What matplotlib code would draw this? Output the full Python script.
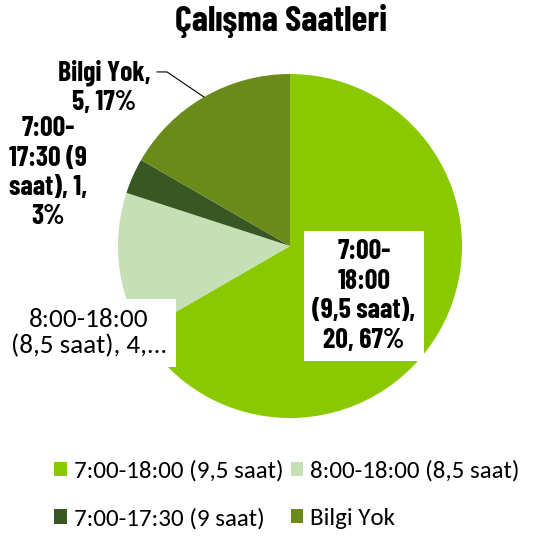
import matplotlib
matplotlib.use("Agg")
import numpy as np
import matplotlib.pyplot as plt

categories = ["7:00-18:00 (9,5 saat)", "8:00-18:00 (8,5 saat)",
              "7:00-17:30 (9 saat)", "Bilgi Yok"]
counts = [20, 4, 1, 5]
colors = ["#8AC800", "#C5E0B4", "#385723", "#6A8A1A"]

cond = "Barlow Condensed"
body = "Carlito"

fig = plt.figure(figsize=(5.35, 5.36), dpi=100)
ax = fig.add_axes([118 / 535, 118 / 536, 344 / 535, 344 / 536])

wedges, _ = ax.pie(counts, colors=colors, startangle=90, counterclock=False,
                   radius=1, wedgeprops=dict(linewidth=0))
ax.set_xlim(-1, 1)
ax.set_ylim(-1, 1)
ax.set_aspect("equal")
ax.axis("off")

total = sum(counts)
pct = [round(c / total * 100) for c in counts]

lab = dict(ha="center", va="center", fontsize=20, fontweight="bold",
           family=cond, linespacing=1.22, clip_on=False)

# big slice label, white box inside the pie
ax.text(0.430, -0.291, f"7:00-\n18:00\n(9,5 saat),\n{counts[0]}, {pct[0]}%",
        bbox=dict(boxstyle="square,pad=0.3", fc="white", ec="none"), **lab)

# truncated label on the left
ax.text(-1.169, -0.506, f"8:00-18:00\n(8,5 saat), {counts[1]},...",
        ha="center", va="center", fontsize=19.5, family=body, linespacing=1.15,
        clip_on=False,
        bbox=dict(boxstyle="square,pad=0.35", fc="white", ec="none"))

ax.text(-1.407, 0.425, f"7:00-\n17:30 (9\nsaat), {counts[2]},\n{pct[2]}%", **lab)

# Bilgi Yok label with leader line
w = wedges[3]
mid = np.deg2rad((w.theta1 + w.theta2) / 2)
tip = (np.cos(mid), np.sin(mid))
ax.plot([-0.773, -0.715, tip[0]], [1.012, 1.012, tip[1]], color="black",
        lw=0.8, clip_on=False)
ax.text(-1.081, 0.924, f"Bilgi Yok,\n{counts[3]}, {pct[3]}%", **lab)

fig.text(281 / 535, 1 - 21 / 536, "Çalışma Saatleri", ha="center", va="center",
         fontsize=26, fontweight="bold", family=cond)

order = [0, 2, 1, 3]
fig.legend([wedges[i] for i in order], [categories[i] for i in order],
           ncol=2, frameon=False, loc="upper left",
           bbox_to_anchor=(54 / 535, 1 - 460 / 536),
           prop=dict(family=body, size=18),
           handlelength=0.5, handleheight=0.5, handletextpad=0.28,
           columnspacing=0.3, labelspacing=1.05, borderpad=0, borderaxespad=0)

fig.savefig("out.png")
